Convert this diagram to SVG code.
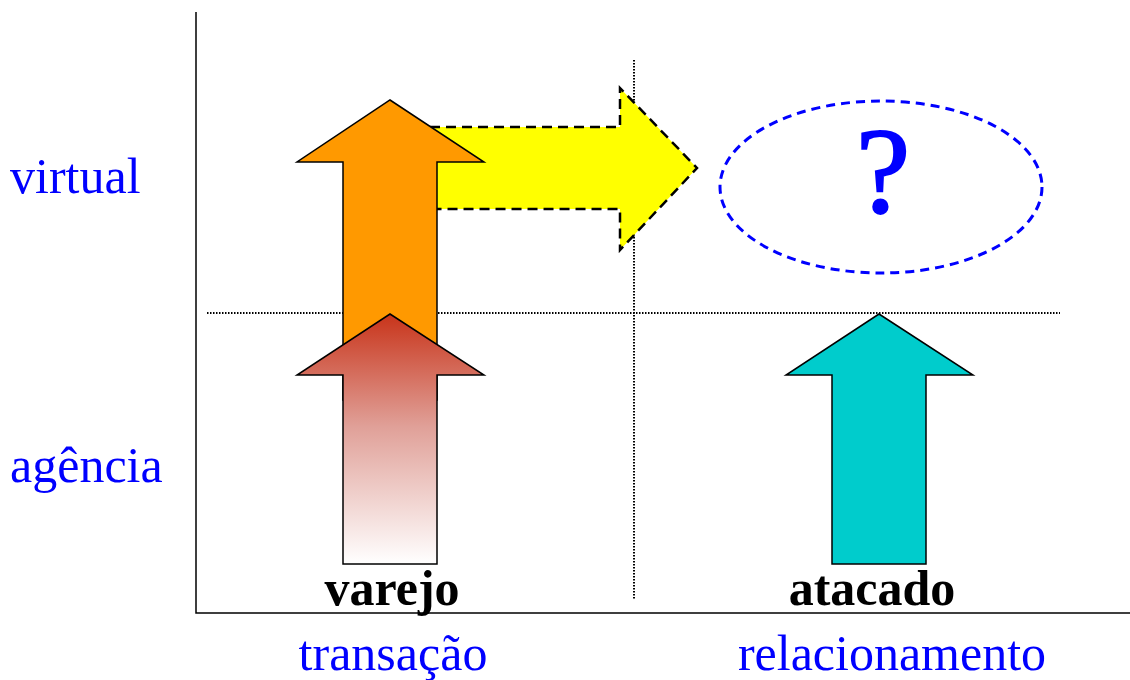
<svg xmlns="http://www.w3.org/2000/svg" width="1130" height="680" viewBox="0 0 1130 680">
<defs>
<linearGradient id="redgrad" x1="0" y1="0" x2="0" y2="1">
<stop offset="0" stop-color="#c8341a"/>
<stop offset="0.45" stop-color="#e0a098"/>
<stop offset="1" stop-color="#ffffff"/>
</linearGradient>
<style>
.lbl{font-family:"Liberation Serif","Times New Roman",serif;fill:#0000ff;font-size:50px}
.bold{font-family:"Liberation Serif","Times New Roman",serif;fill:#000;font-size:50px;font-weight:bold}
.axis{stroke:#000;stroke-width:1.5;fill:none}
.dot{stroke:#000;stroke-width:2;stroke-dasharray:1.5 1.5;fill:none}
.arrow{stroke:#000;stroke-width:1.5}
</style>
</defs>
<rect width="1130" height="680" fill="#fff"/>
<g id="axes">
<path class="axis" d="M196 12 V613 H1130"/>
<path class="dot" d="M634 60 V600"/>
<path class="dot" d="M207 313 H1060"/>
</g>
<g id="connectors">
<polygon id="yellow-arrow" points="430,127 620,127 620,88 697,168 620,250 620,209 430,209" fill="#ffff00" stroke="#000" stroke-width="2.5" stroke-dasharray="10 6"/>
<polygon id="orange-arrow" class="arrow" points="390,100 484,162 437,162 437,400 343,400 343,162 297,162" fill="#ff9900"/>
<polygon id="red-arrow" class="arrow" points="390,314 484,375 437,375 437,564 343,564 343,375 297,375" fill="url(#redgrad)"/>
<polygon id="cyan-arrow" class="arrow" points="879,314 973,375 926,375 926,564 832,564 832,375 786,375" fill="#00cccc"/>
</g>
<g id="node-question">
<ellipse cx="881" cy="187" rx="161" ry="86" fill="none" stroke="#0000ff" stroke-width="3" stroke-dasharray="9 6"/>
<text x="883" y="212" text-anchor="middle" font-family="Liberation Serif, serif" font-size="122" fill="#0000ff" stroke="#0000ff" stroke-width="2">?</text>
</g>
<g id="node-virtual"><text class="lbl" x="10" y="193">virtual</text></g>
<g id="node-agencia"><text class="lbl" x="10" y="482">agência</text></g>
<g id="node-varejo"><text class="bold" x="392" y="605" text-anchor="middle">varejo</text></g>
<g id="node-atacado"><text class="bold" x="872" y="605" text-anchor="middle">atacado</text></g>
<g id="node-transacao"><text class="lbl" x="393" y="670" text-anchor="middle">transação</text></g>
<g id="node-relacionamento"><text class="lbl" x="892" y="670" text-anchor="middle">relacionamento</text></g>
</svg>
